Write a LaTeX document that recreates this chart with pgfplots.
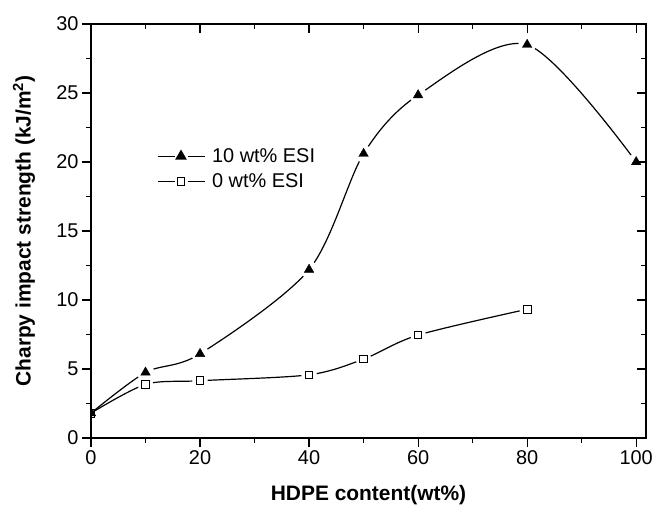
\documentclass[border=0pt]{standalone}
\usepackage{pgfplots}
\pgfplotsset{compat=1.18}
\usepackage{fontspec}
\setmainfont{Liberation Sans}

\begin{document}
\begin{tikzpicture}
\pgfplotsset{chart/.style={scale only axis, width=555bp, height=414bp,
  xmin=0, xmax=101.8, ymin=0, ymax=30,
  xtick={0,20,...,100}, ytick={0,5,...,30},
  minor x tick num=1, minor y tick num=1,
  axis line style={line width=1.5bp},
  major tick length=9bp, minor tick length=5bp,
  every tick/.style={black, line width=1.2bp}}}

\begin{axis}[chart, name=ax, tick align=outside, xtick pos=left, ytick pos=left,
  clip marker paths=true,
  tick label style={font=\fontsize{20}{22}\selectfont},
  /pgf/number format/assume math mode=true,
  xlabel={HDPE content(wt\%)},
  ylabel={Charpy impact strength (kJ/m\textsuperscript{2})},
  label style={font=\fontsize{21}{24}\selectfont\bfseries},
  xlabel style={at={(axis description cs:0.5,-0.1377)}, anchor=center},
  ylabel style={at={(axis description cs:-0.1207,0.5)}, anchor=center},
  legend style={draw=none, fill=none, at={(0.113,0.65)}, anchor=west,
    font=\fontsize{20}{22}\selectfont, row sep=6bp,
    /tikz/every odd column/.append style={column sep=5bp}},
  legend cell align=left,
  legend image code/.code={
    \draw[mark=none] (0bp,0bp) -- (17bp,0bp);
    \draw[mark=none] (30bp,0bp) -- (47bp,0bp);
    \draw plot[only marks] coordinates {(23.5bp,0bp)};}]

% 10 wt% ESI
\addplot[black, line width=1.2bp, smooth, forget plot] coordinates {
  (0,1.8) (10,4.75) (20,6.1) (40,12.2) (50,20.6) (60,24.85) (80,28.5) (100,20.0)};
% 0 wt% ESI
\addplot[black, line width=1.2bp, smooth, forget plot] coordinates {
  (0,1.8) (10,3.88) (20,4.15) (40,4.58) (50,5.72) (60,7.46) (80,9.33)};

% gaps round the markers
\addplot[only marks, mark=*, mark options={draw=white, fill=white},
  mark size=8.5bp, forget plot] coordinates {
  (10,4.75) (20,6.1) (40,12.2) (50,20.6) (60,24.85) (80,28.5) (100,20.0)};
\addplot[only marks, mark=*, mark options={draw=white, fill=white},
  mark size=7.5bp, forget plot] coordinates {
  (10,3.88) (20,4.15) (40,4.58) (50,5.72) (60,7.46) (80,9.33)};

\addplot[only marks, mark=square, mark options={fill=white, line width=0.9bp},
  mark size=3.8bp, forget plot] coordinates {
  (0,1.8) (10,3.88) (20,4.15) (40,4.58) (50,5.72) (60,7.46) (80,9.33)};
\addplot[only marks, mark=triangle*, black, mark size=5.5bp, forget plot] coordinates {
  (0,1.8) (10,4.75) (20,6.1) (40,12.2) (50,20.6) (60,24.85) (80,28.5) (100,20.0)};

\addlegendimage{black, line width=1.2bp, mark=triangle*, mark size=5.5bp}
\addlegendentry{10 wt\% ESI}
\addlegendimage{black, line width=1.2bp, mark=square,
  mark options={fill=white, line width=0.9bp}, mark size=3.8bp}
\addlegendentry{0 wt\% ESI}
\end{axis}

\begin{axis}[chart, tick align=inside, xtick pos=right, ytick pos=right,
  xticklabels={}, yticklabels={}]
\end{axis}

\pgfresetboundingbox
\path ([xshift=-91bp,yshift=-70bp]ax.south west)
  rectangle ([xshift=6bp,yshift=24bp]ax.north east);
\end{tikzpicture}
\end{document}
